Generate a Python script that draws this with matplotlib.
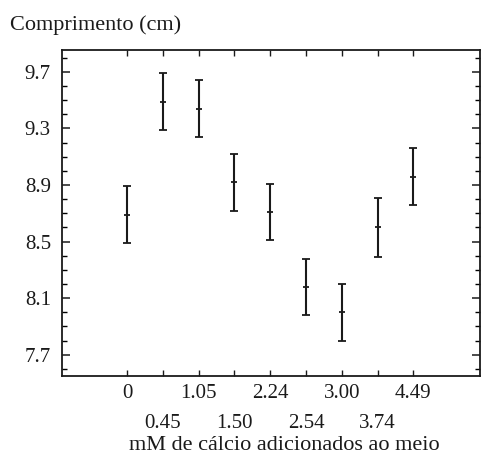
import matplotlib
matplotlib.use("Agg")
import matplotlib.pyplot as plt
import numpy as np

# Data
categories = ["0", "0.45", "1.05", "1.50", "2.24", "2.54", "3.00", "3.74", "4.49"]
means = [8.69, 9.49, 9.44, 8.92, 8.71, 8.18, 8.00, 8.60, 8.96]
errors = [0.20, 0.20, 0.20, 0.20, 0.20, 0.20, 0.20, 0.21, 0.20]
y_ticks = [7.7, 8.1, 8.5, 8.9, 9.3, 9.7]
y_label = "Comprimento (cm)"
x_label = "mM de cálcio adicionados ao meio"

plt.rcParams['font.family'] = ['Liberation Serif', 'DejaVu Serif']

fig = plt.figure(figsize=(4.93, 4.55), dpi=100)
ax = fig.add_axes([62/493, 1-376/455, (480-62)/493, (376-50)/455])

x = np.arange(len(categories))
ink = "#1a1a1a"
ax.errorbar(x, means, yerr=errors, fmt='_', color=ink, ecolor=ink,
            elinewidth=1.5, capsize=3.2, capthick=1.5, markersize=4, markeredgewidth=1.3)

ax.set_xlim(-1.82, 9.86)
ax.set_ylim(7.55, 9.855)

# y ticks
ax.set_yticks(y_ticks)
ax.set_yticklabels([f"{v:.1f}" for v in y_ticks])
ax.set_yticks(np.arange(7.6, 9.85, 0.1), minor=True)

# x ticks: two rows via major (even) and minor (odd)
even = x[0::2]
odd = x[1::2]
ax.set_xticks(even)
ax.set_xticklabels([categories[i] for i in even])
ax.set_xticks(odd, minor=True)
ax.set_xticklabels([categories[i] for i in odd], minor=True)

ax.tick_params(axis='y', which='major', direction='in', length=6, width=1.1,
               left=True, right=True, labelsize=15, pad=8, colors=ink)
ax.tick_params(axis='y', which='minor', direction='in', length=3.5, width=1.0,
               left=True, right=True)
ax.tick_params(axis='x', which='major', direction='in', length=4, width=1.0,
               top=True, bottom=True, labelsize=15, pad=6, colors=ink)
ax.tick_params(axis='x', which='minor', direction='in', length=4, width=1.0,
               top=True, bottom=True, labelsize=15, pad=27, colors=ink)

for s in ax.spines.values():
    s.set_linewidth(1.3)
    s.set_color(ink)

fig.text(10/493, 1-25/455, y_label, ha='left', va='center', fontsize=16, color=ink)
fig.text(284/493, 1-446/455, x_label, ha='center', va='center', fontsize=16, color=ink)

fig.savefig("out.png", dpi=100)
